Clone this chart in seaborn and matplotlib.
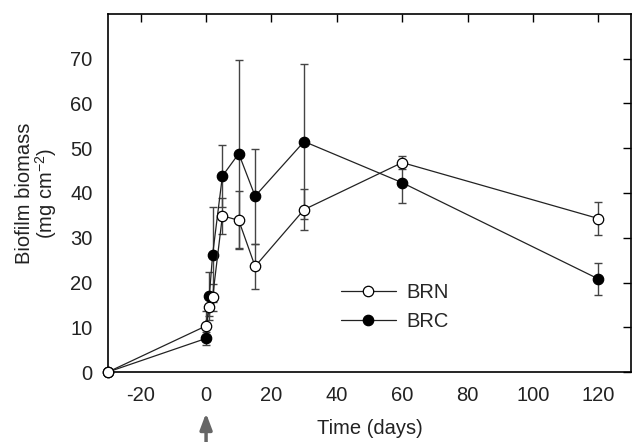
import matplotlib
matplotlib.use("Agg")
import matplotlib.pyplot as plt
import seaborn as sns
import numpy as np
import pandas as pd

sns.set_theme(style="white")
plt.rcParams['font.family'] = ['Liberation Sans', 'DejaVu Sans']
plt.rcParams['axes.unicode_minus'] = False
plt.rcParams['mathtext.fontset'] = 'custom'
plt.rcParams['mathtext.rm'] = 'Liberation Sans'

# Data
time_brn = [-30, 0, 1, 2, 5, 10, 15, 30, 60, 120]
brn_mean = [0, 10.3, 14.6, 16.7, 34.9, 33.9, 23.6, 36.3, 46.8, 34.3]
brn_err  = [0, 3.4, 2.0, 3.0, 4.0, 6.5, 5.0, 4.5, 1.5, 3.7]

time_brc = [-30, 0, 1, 2, 5, 10, 15, 30, 60, 120]
brc_mean = [0, 7.5, 17.0, 26.2, 43.8, 48.8, 39.3, 51.5, 42.3, 20.8]
brc_err  = [0, 1.5, 5.3, 10.6, 7.0, 21.0, 10.6, 17.3, 4.5, 3.5]

xticks = [-20, 0, 20, 40, 60, 80, 100, 120]
yticks = [0, 10, 20, 30, 40, 50, 60, 70]

df = pd.concat([
    pd.DataFrame({"time": time_brn, "biomass": brn_mean, "err": brn_err, "series": "BRN"}),
    pd.DataFrame({"time": time_brc, "biomass": brc_mean, "err": brc_err, "series": "BRC"}),
])

fig = plt.figure(figsize=(6.32, 4.42), dpi=100)
ax = fig.add_axes([108/632, 1-372/442, (631-108)/632, (372-14)/442])

ecol = "#444444"
lcol = "#222222"
fs = 14.5
for name in ["BRN", "BRC"]:
    sub = df[(df.series == name) & (df.err > 0)]
    ax.errorbar(sub.time, sub.biomass, yerr=sub.err, fmt="none", ecolor=ecol,
                elinewidth=1.0, capsize=3, capthick=1.0, zorder=2, clip_on=False)
for name, face in [("BRC", "black"), ("BRN", "white")]:
    sub = df[df.series == name]
    sns.lineplot(data=sub, x="time", y="biomass", ax=ax, color=lcol, linewidth=0.9,
                 marker="o", markersize=7.5, markerfacecolor=face,
                 markeredgecolor="black", markeredgewidth=0.9, label=name,
                 clip_on=False, zorder=3, estimator=None, sort=False)

ax.set_xlim(-30, 130)
ax.set_ylim(0, 80)
ax.set_xticks(xticks)
ax.set_yticks(yticks)
ax.tick_params(direction="in", length=6, width=1, colors="black",
               top=True, right=True, labelsize=fs, labelcolor="#222222")
ax.tick_params(axis='x', pad=10)
ax.tick_params(axis='y', pad=11)
for s in ax.spines.values():
    s.set_color("black")
    s.set_linewidth(1.2)

ax.set_xlabel("Time (days)", fontsize=fs, color="#222222", labelpad=10)
ax.set_ylabel("Biofilm biomass\n(mg cm$^{\\mathregular{-2}}$)", fontsize=fs, color="#222222",
              labelpad=8, linespacing=0.95)

h, l = ax.get_legend_handles_labels()
order = [l.index("BRN"), l.index("BRC")]
ax.legend([h[i] for i in order], [l[i] for i in order], loc="upper left",
          bbox_to_anchor=(0.41, 0.30), frameon=False, fontsize=fs,
          handlelength=2.75, handletextpad=0.5, labelspacing=0.5)

ax.annotate("", xy=(0, -0.115), xytext=(0, -0.205),
            xycoords=("data", "axes fraction"), textcoords=("data", "axes fraction"),
            arrowprops=dict(arrowstyle="-|>,head_length=0.8,head_width=0.3",
                            color="#666666", lw=2.5, shrinkA=0, shrinkB=0))

fig.savefig("out.png", dpi=100)
